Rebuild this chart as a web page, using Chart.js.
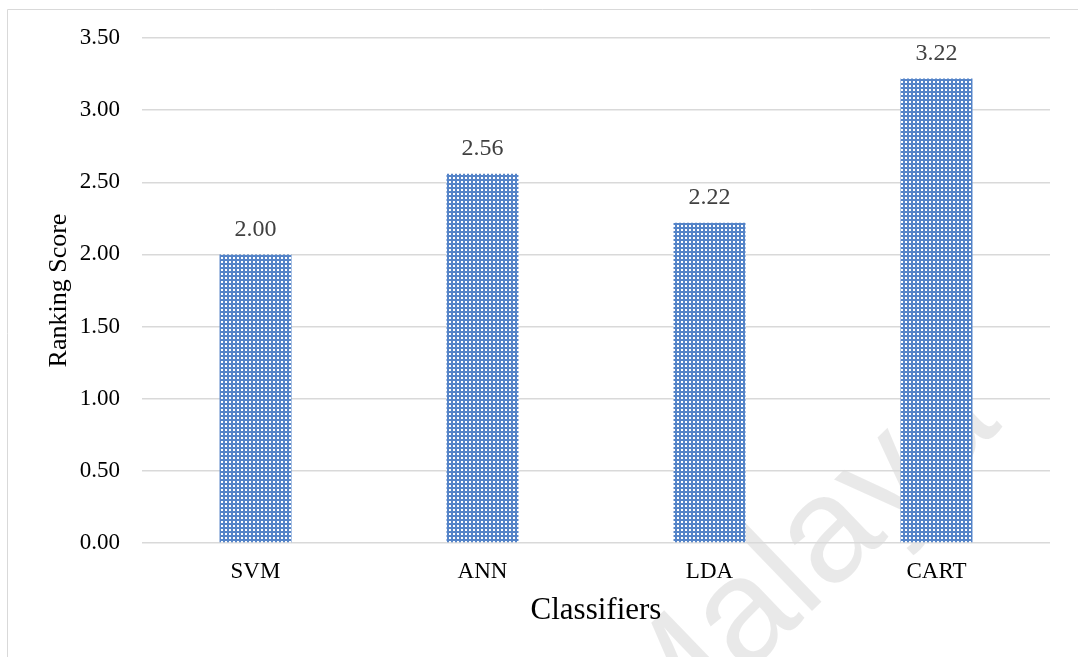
<!DOCTYPE html>
<html>
<head>
<meta charset="utf-8">
<script src="https://cdn.jsdelivr.net/npm/chart.js@4/dist/chart.umd.min.js"></script>
<style>
html,body{margin:0;padding:0;background:#fff;}
#wrap{position:absolute;left:0;top:0;width:1078px;height:657px;}
</style>
</head>
<body>
<div id="wrap"><canvas id="c" width="1078" height="657"></canvas></div>
<script>
const categories = ["SVM", "ANN", "LDA", "CART"];
const scores = [2.00, 2.56, 2.22, 3.22];
const yTicks = [0, 0.5, 1.0, 1.5, 2.0, 2.5, 3.0, 3.5];

function makePattern() {
  const p = document.createElement('canvas');
  p.width = 4; p.height = 4;
  const g = p.getContext('2d');
  g.fillStyle = '#5584c8';
  g.fillRect(0, 0, 4, 4);
  g.fillStyle = '#ffffff';
  g.fillRect(1, 1, 2, 2);
  const ctx = document.getElementById('c').getContext('2d');
  return ctx.createPattern(p, 'repeat');
}

const frame = {
  id: 'frame',
  beforeDraw(chart) {
    const ctx = chart.ctx;
    ctx.save();
    ctx.strokeStyle = '#d9d9d9';
    ctx.lineWidth = 1;
    ctx.beginPath();
    ctx.moveTo(7.5, 657);
    ctx.lineTo(7.5, 9.5);
    ctx.lineTo(1078, 9.5);
    ctx.stroke();
    // watermark
    ctx.translate(800, 565);
    ctx.rotate(-44 * Math.PI / 180);
    ctx.fillStyle = 'rgba(0,0,0,0.085)';
    ctx.font = '150px "Liberation Sans", Arial, sans-serif';
    ctx.textAlign = 'center';
    ctx.textBaseline = 'middle';
    ctx.fillText('Malaya', 0, 0);
    ctx.restore();
  }
};

const valueLabels = {
  id: 'valueLabels',
  afterDatasetsDraw(chart) {
    const ctx = chart.ctx;
    const meta = chart.getDatasetMeta(0);
    ctx.save();
    ctx.fillStyle = '#404040';
    ctx.font = '24px "Liberation Serif", "Times New Roman", serif';
    ctx.textAlign = 'center';
    ctx.textBaseline = 'middle';
    meta.data.forEach((bar, i) => {
      ctx.fillText(scores[i].toFixed(2), bar.x, bar.y - 25);
    });
    ctx.restore();
  }
};

new Chart(document.getElementById('c'), {
  type: 'bar',
  data: {
    labels: categories,
    datasets: [{
      data: scores,
      backgroundColor: makePattern(),
      borderWidth: 0,
      barPercentage: 0.317,
      categoryPercentage: 1.0
    }]
  },
  options: {
    responsive: false,
    animation: false,
    devicePixelRatio: 1,
    layout: { padding: { left: 0, right: 28, top: 38, bottom: 0 } },
    plugins: { legend: { display: false }, tooltip: { enabled: false } },
    scales: {
      x: {
        grid: { display: false, drawTicks: false },
        border: { display: false },
        ticks: {
          color: '#000',
          padding: 15,
          font: { family: '"Liberation Serif", "Times New Roman", serif', size: 23 }
        },
        title: {
          display: true,
          text: 'Classifiers',
          color: '#000',
          font: { family: '"Liberation Serif", "Times New Roman", serif', size: 31 },
          padding: { top: 0, bottom: 28 }
        },
        afterFit(scale) { scale.height = 114; }
      },
      y: {
        min: 0,
        max: 3.5,
        afterBuildTicks(scale) { scale.ticks = yTicks.map(v => ({ value: v })); },
        grid: { color: '#d9d9d9', lineWidth: 1.5, drawTicks: false },
        border: { display: false },
        ticks: {
          color: '#000',
          padding: 22,
          font: { family: '"Liberation Serif", "Times New Roman", serif', size: 23 },
          callback: (v) => Number(v).toFixed(2)
        },
        title: {
          display: true,
          text: 'Ranking Score',
          color: '#000',
          font: { family: '"Liberation Serif", "Times New Roman", serif', size: 26 },
          padding: { top: 44, bottom: 0 }
        },
        afterFit(scale) { scale.width = 142; }
      }
    }
  },
  plugins: [frame, valueLabels]
});
</script>
</body>
</html>
